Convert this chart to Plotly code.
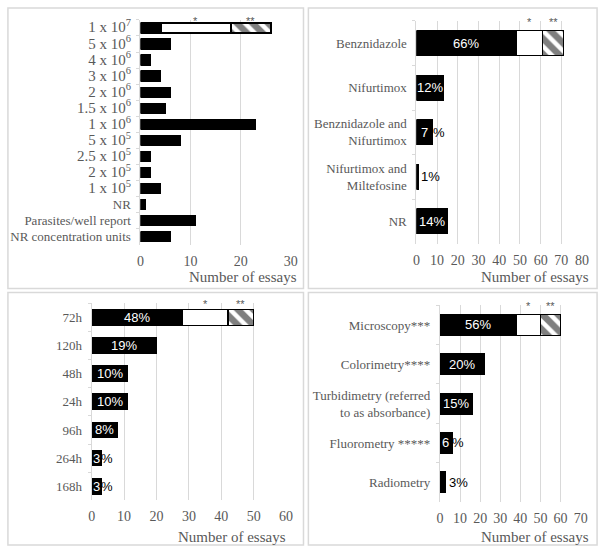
import plotly.graph_objects as go

# ---------------- data ----------------
# Panel A: parasite concentration (top-left)
conc_cats = ["1 x 10<sup>7</sup>", "5 x 10<sup>6</sup>", "4 x 10<sup>6</sup>", "3 x 10<sup>6</sup>",
             "2 x 10<sup>6</sup>", "1.5 x 10<sup>6</sup>", "1 x 10<sup>6</sup>", "5 x 10<sup>5</sup>",
             "2.5 x 10<sup>5</sup>", "2 x 10<sup>5</sup>", "1 x 10<sup>5</sup>", "NR",
             "Parasites/well report", "NR concentration units"]
conc_main = [4, 6, 2, 4, 6, 5, 23, 8, 2, 2, 4, 1, 11, 6]
conc_star1 = [14, None, None, None, None, None, None, None, None, None, None, None, None, None]
conc_star2 = [8, None, None, None, None, None, None, None, None, None, None, None, None, None]
conc_pct = [None] * 14

# Panel B: drug (top-right)
drug_cats = ["Benznidazole", "Nifurtimox", "Benznidazole and<br>Nifurtimox",
             "Nifurtimox and<br>Miltefosine", "NR"]
drug_main = [48, 13, 8, 1, 15]
drug_star1 = [13, None, None, None, None]
drug_star2 = [10, None, None, None, None]
drug_pct = ["66%", "12%", "7%", "1%", "14%"]

# Panel C: incubation time (bottom-left)
time_cats = ["72h", "120h", "48h", "24h", "96h", "264h", "168h"]
time_main = [28, 20, 11, 11, 8, 3, 3]
time_star1 = [14, None, None, None, None, None, None]
time_star2 = [8, None, None, None, None, None, None]
time_pct = ["48%", "19%", "10%", "10%", "8%", "3%", "3%"]

# Panel D: read-out method (bottom-right)
method_cats = ["Microscopy***", "Colorimetry****", "Turbidimetry (referred<br>to as absorbance)",
               "Fluorometry *****", "Radiometry"]
method_main = [38, 22, 16, 6, 3]
method_star1 = [12, None, None, None, None]
method_star2 = [10, None, None, None, None]
method_pct = ["56%", "20%", "15%", "6%", "3%"]

x_title = "Number of essays"
star_labels = ["*", "**"]

# ---------------- layout helpers ----------------
W, H = 608, 549
GRAY = "#595959"
GRID = "#d9d9d9"
SERIF = "Liberation Serif"
SANS = "Liberation Sans"
PCT_SIZE = 13


def px_x(p):
    return p / W


def px_y(p):
    return 1 - p / H


panels = [
    dict(cats=conc_cats, main=conc_main, s1=conc_star1, s2=conc_star2, pct=conc_pct,
         xr=[0, 30], dx=10, xd=[139, 292], yd=[17, 243], bw=0.64, lw=2.2,
         big_cats=True, title_px=(300, 276)),
    dict(cats=drug_cats, main=drug_main, s1=drug_star1, s2=drug_star2, pct=drug_pct,
         xr=[0, 80], dx=10, xd=[420, 588.7], yd=[18, 242], bw=0.56, lw=1.5,
         big_cats=False, title_px=(598, 276)),
    dict(cats=time_cats, main=time_main, s1=time_star1, s2=time_star2, pct=time_pct,
         xr=[0, 60], dx=10, xd=[89.3, 287.3], yd=[302, 500], bw=0.56, lw=1.5,
         big_cats=False, title_px=(289, 537)),
    dict(cats=method_cats, main=method_main, s1=method_star1, s2=method_star2, pct=method_pct,
         xr=[0, 70], dx=10, xd=[444, 587.3], yd=[304, 501.7], bw=0.54, lw=1.5,
         big_cats=False, title_px=(598, 537)),
]

fig = go.Figure()
annotations = []
layout_axes = {}

for i, p in enumerate(panels):
    n = i + 1
    xa = "x" if n == 1 else f"x{n}"
    ya = "y" if n == 1 else f"y{n}"
    xkey = "xaxis" if n == 1 else f"xaxis{n}"
    ykey = "yaxis" if n == 1 else f"yaxis{n}"

    fig.add_trace(go.Bar(y=p["cats"], x=p["main"], orientation="h", xaxis=xa, yaxis=ya,
                         marker=dict(color="black", line=dict(color="black", width=1)),
                         width=p["bw"], showlegend=False, hoverinfo="skip"))
    fig.add_trace(go.Bar(y=p["cats"], x=p["s1"], orientation="h", xaxis=xa, yaxis=ya,
                         marker=dict(color="white", line=dict(color="black", width=p["lw"])),
                         width=p["bw"], showlegend=False, hoverinfo="skip"))
    fig.add_trace(go.Bar(y=p["cats"], x=p["s2"], orientation="h", xaxis=xa, yaxis=ya,
                         marker=dict(color="white", line=dict(color="black", width=p["lw"]),
                                     pattern=dict(shape="\\", fgcolor="black", bgcolor="white",
                                                  size=11, solidity=0.6)),
                         width=p["bw"], showlegend=False, hoverinfo="skip"))

    tickvals = p["cats"]
    if p["big_cats"]:
        ticktext = [f'<span style="font-size:15px">{c}</span>' if "<sup>" in c else c
                    for c in p["cats"]]
    else:
        ticktext = p["cats"]

    layout_axes[xkey] = dict(
        domain=[px_x(p["xd"][0]), px_x(p["xd"][1])], anchor=ya, range=p["xr"], dtick=p["dx"],
        showgrid=True, gridcolor=GRID, gridwidth=1, zeroline=False, showline=False,
        ticks="", tickfont=dict(family=SERIF, size=14, color=GRAY), ticklabelstandoff=6,
        fixedrange=True)
    layout_axes[ykey] = dict(
        domain=[px_y(p["yd"][1]), px_y(p["yd"][0])], anchor=xa, type="category",
        categoryorder="array", categoryarray=p["cats"], autorange="reversed",
        tickvals=tickvals, ticktext=ticktext,
        showline=True, linecolor=GRID, linewidth=1, ticks="outside", tickson="boundaries",
        ticklen=3, tickcolor=GRID, showgrid=False, zeroline=False,
        tickfont=dict(family=SERIF, size=13, color=GRAY), ticklabelstandoff=6,
        fixedrange=True)

    # axis title
    tx, ty = p["title_px"]
    annotations.append(dict(text=x_title, xref="paper", x=px_x(tx), xanchor="right",
                            yref="paper", y=px_y(ty), yanchor="middle",
                            showarrow=False, font=dict(family=SERIF, size=15, color=GRAY)))

    # asterisks over white and hatched segments of the first bar
    m0, a0, b0 = p["main"][0], p["s1"][0], p["s2"][0]
    for xv, lab in ((m0 + a0 / 2, star_labels[0]), (m0 + a0 + b0 / 2, star_labels[1])):
        annotations.append(dict(text=lab, x=xv, xref=xa, yref=f"{ya} domain", y=1.0,
                                yanchor="middle", yshift=-1, showarrow=False,
                                font=dict(family=SANS, size=11, color=GRAY)))

    # percentage labels
    ppu = (p["xd"][1] - p["xd"][0]) / (p["xr"][1] - p["xr"][0])
    for cat, val, lab in zip(p["cats"], p["main"], p["pct"]):
        if lab is None:
            continue
        digits = lab[:-1]
        dw = PCT_SIZE * 0.556 * len(digits)
        tw = dw + PCT_SIZE * 0.889
        bar_px = val * ppu
        if tw <= bar_px:
            annotations.append(dict(text=lab, x=val / 2, y=cat, xref=xa, yref=ya,
                                    showarrow=False,
                                    font=dict(family=SANS, size=PCT_SIZE, color="white")))
        elif bar_px >= 7:
            # digits white inside the bar, percent sign black just after the bar
            annotations.append(dict(text=digits, x=val / 2, y=cat, xref=xa, yref=ya,
                                    showarrow=False, borderpad=0,
                                    font=dict(family=SANS, size=PCT_SIZE, color="white")))
            annotations.append(dict(text="%", x=val, y=cat, xref=xa, yref=ya,
                                    xanchor="left", xshift=-1, showarrow=False,
                                    borderpad=0,
                                    font=dict(family=SANS, size=PCT_SIZE, color="black")))
        else:
            annotations.append(dict(text=lab, x=val, y=cat, xref=xa, yref=ya,
                                    xanchor="left", xshift=1, showarrow=False,
                                    font=dict(family=SANS, size=PCT_SIZE, color="black")))

# panel frames
frames = [(4, 5, 305, 287), (310, 5, 604, 287), (4, 291, 305, 545), (310, 291, 604, 545)]
shapes = [dict(type="rect", xref="paper", yref="paper", x0=px_x(a), x1=px_x(c),
               y0=px_y(d), y1=px_y(b), line=dict(color=GRID, width=1.5), layer="below")
          for a, b, c, d in frames]

fig.update_layout(width=W, height=H, margin=dict(l=0, r=0, t=0, b=0),
                  paper_bgcolor="white", plot_bgcolor="white", barmode="stack",
                  bargap=0.4, annotations=annotations, shapes=shapes, **layout_axes)

fig.write_html("out.html", config={"displayModeBar": False},
               post_script="document.body.style.margin='0';")
